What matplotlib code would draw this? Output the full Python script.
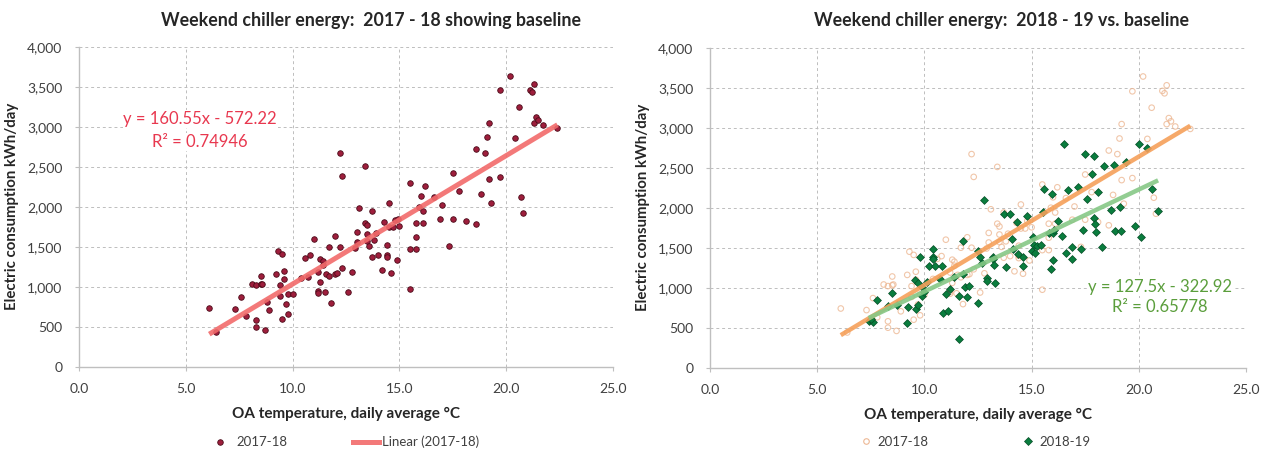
import numpy as np
import matplotlib
matplotlib.use("Agg")
import matplotlib.pyplot as plt
from matplotlib.lines import Line2D

# 2017-18 weekend days: OA temperature (C) vs chiller energy (kWh/day)
temp_1718 = [6.1, 6.4, 7.3, 7.6, 7.8, 8.1, 8.3, 8.3, 8.3, 8.5, 8.5, 8.55, 8.7, 8.8, 8.9,
             9.2, 9.3, 9.5, 9.4, 9.4, 9.5, 9.6, 9.6, 9.7, 9.8, 9.8, 10.0, 10.4, 10.6, 10.7,
             10.8, 11.0, 11.2, 11.2, 11.2, 11.3, 11.3, 11.4, 11.4, 11.5, 11.55, 11.7, 11.7,
             11.8, 12.0, 12.0, 12.1, 12.2, 12.2, 12.3, 12.3, 12.6, 12.8, 12.9, 13.0, 13.0,
             13.1, 13.4, 13.4, 13.5, 13.5, 13.5, 13.6, 13.7, 13.7, 13.8, 13.9, 14.0, 14.2,
             14.3, 14.4, 14.4, 14.4, 14.5, 14.5, 14.6, 14.7, 14.8, 14.9, 14.95, 15.0, 15.5,
             15.5, 15.5, 15.8, 15.8, 15.8, 15.9, 16.0, 16.1, 16.1, 16.2, 16.6, 16.9, 17.0,
             17.3, 17.5, 17.5, 17.8, 18.1, 18.6, 18.6, 18.8, 19.0, 19.1, 19.2, 19.2, 19.3,
             19.7, 19.7, 20.2, 20.4, 20.6, 20.7, 20.8, 21.1, 21.2, 21.3, 21.3, 21.4, 21.5,
             21.7, 22.4]
kwh_1718 = [740, 440, 720, 870, 630, 1040, 1020, 580, 500, 1030, 1140, 1040, 460, 805, 705,
            1160, 1450, 1410, 1020, 885, 600, 1200, 1100, 790, 655, 915, 910, 1110, 1360, 1120,
            1395, 1600, 950, 925, 1190, 1060, 1350, 1325, 1275, 930, 1160, 1500, 1130,
            795, 1630, 1160, 1170, 1500, 2670, 2385, 1230, 940, 1180, 1490, 1685, 1565,
            1980, 2510, 1800, 1765, 1570, 1665, 1510, 1940, 1375, 1580, 1675, 1395, 1205,
            1810, 1525, 1400, 1370, 2040, 1740, 1175, 1740, 1835, 1340, 1850, 1755, 2290,
            1470, 975, 1625, 1470, 1800, 2000, 2130, 1940, 1800, 2255, 2120, 1850, 2015,
            1510, 2415, 1850, 2195, 1820, 2715, 1780, 2160, 2670, 2865, 3045, 2345, 2050,
            3455, 2370, 3640, 2860, 3250, 2125, 1925, 3460, 3430, 3530, 3045, 3120, 3080,
            3015, 2985]

# 2018-19 weekend days
temp_1819 = [7.4, 7.6, 7.5, 7.8, 8.5, 8.3, 8.7, 9.2, 9.25, 9.55, 9.6, 9.7, 9.7, 9.8, 9.9,
             9.9, 10.0, 10.1, 10.2, 10.4, 10.4, 10.4, 10.5, 10.8, 10.75, 10.85, 11.0, 11.1,
             11.2, 11.4, 11.6, 11.6, 11.8, 11.8, 11.9, 12.0, 12.1, 12.5, 12.5, 12.6, 12.7,
             12.8, 12.9, 12.9, 13.2, 13.2, 13.25, 13.3, 13.7, 13.8, 14.0, 14.1, 14.15, 14.3,
             14.35, 14.6, 14.6, 14.8, 15.0, 15.05, 15.1, 15.15, 15.25, 15.45, 15.55, 15.6,
             15.8, 15.9, 15.95, 16.0, 16.0, 16.05, 16.25, 16.4, 16.5, 16.6, 16.7, 16.9, 16.9,
             17.15, 17.3, 17.4, 17.5, 17.6, 17.8, 17.9, 17.9, 17.95, 18.0, 18.1, 18.3, 18.4,
             18.7, 18.85, 18.9, 19.1, 19.15, 19.4, 19.8, 20.0, 20.1, 20.4, 20.6, 20.9]
kwh_1819 = [587, 570, 608, 845, 936, 770, 782, 558, 757, 1095, 740, 782, 1061, 1378, 1011,
            899, 945, 1074, 1269, 1486, 1378, 1353, 1269, 1269, 1103, 687, 920, 712,
            978, 1136, 895, 354, 1586, 1170, 1003, 887, 1020, 1461, 803, 1378, 1303,
            2102, 1120, 1086, 1386, 1353, 1278, 1061, 1919, 1261, 1919, 1615, 1478, 1819,
            1419, 1269, 1386, 1894, 1461, 1636, 1532, 1428, 1519, 1532, 1944, 2235,
            1686, 1228, 2177, 1344, 1678, 1719, 1836, 1644, 2801, 1428, 2218, 1503, 1353,
            2260, 1478, 1719, 2668, 2110, 2426, 2651, 1877, 1802, 1694, 2193, 1503, 2518,
            1969, 2530, 1711, 2010, 1711, 2568, 1769, 2801, 1636, 2743, 2239, 1960]

# Excel linear trendlines
slope_1718, intercept_1718, r2_1718 = 160.55, -572.22, 0.74946
slope_1819, intercept_1819, r2_1819 = 127.5, -322.92, 0.65778

FONT = ["Lato", "DejaVu Sans"]


def style_axes(ax, title, title_x):
    ax.set_xlim(0, 25)
    ax.set_ylim(0, 4000)
    ax.set_xticks(np.arange(0, 25.1, 5))
    ax.set_yticks(np.arange(0, 4001, 500))
    ax.set_xticklabels(["%.1f" % t for t in np.arange(0, 25.1, 5)])
    ax.set_yticklabels(["{:,}".format(int(t)) for t in np.arange(0, 4001, 500)])
    ax.grid(True, color="#BDBDBD", linestyle=(0, (3, 3)), linewidth=0.7)
    ax.set_axisbelow(True)
    for side in ["top", "right"]:
        ax.spines[side].set_visible(False)
    for side in ["left", "bottom"]:
        ax.spines[side].set_color("#BFBFBF")
        ax.spines[side].set_linewidth(1.0)
    ax.tick_params(axis="both", colors="#BFBFBF", labelcolor="#404040", labelsize=10, length=3)
    ax.tick_params(axis="x", pad=9)
    ax.tick_params(axis="y", pad=9)
    ax.set_xlabel("OA temperature, daily average \u00b0C", fontsize=11, fontweight="bold",
                  color="#262626", labelpad=8)
    ax.set_ylabel("Electric consumption kWh/day", fontsize=10.8, fontweight="bold",
                  color="#262626", labelpad=6)
    plt.gcf().text(title_x, 0.955, title, fontsize=12.8, fontweight="bold", color="#262626",
                   ha="center", va="center")


def main():
    plt.rcParams["font.family"] = FONT
    fig = plt.figure(figsize=(12.65, 4.5), dpi=100)
    ax1 = fig.add_axes([79 / 1265, 1 - 366.7 / 450, 534 / 1265, 320 / 450])
    ax2 = fig.add_axes([710 / 1265, 1 - 367.7 / 450, 536 / 1265, 320 / 450])

    x1 = np.array(temp_1718)
    y1 = np.array(kwh_1718)
    x2 = np.array(temp_1819)
    y2 = np.array(kwh_1819)
    fx1 = np.array([x1.min(), x1.max()])
    fx2 = np.array([x2.min(), x2.max()])
    label_bg = dict(facecolor="white", edgecolor="none", pad=0.5)

    # left: 2017-18 with baseline trendline
    ax1.scatter(x1, y1, s=16, color="#9E1E3C", edgecolors="#4A0A18", linewidths=0.6, zorder=3)
    ax1.plot(fx1, slope_1718 * fx1 + intercept_1718, color="#F26B6B", lw=3.6, alpha=0.9,
             solid_capstyle="butt", zorder=4)
    ax1.text(5.67, 3096, "y = 160.55x - 572.22", color="#E8384F", fontsize=12,
             ha="center", va="center", bbox=label_bg, zorder=5)
    ax1.text(5.67, 2809, "R\u00b2 = %.5f" % r2_1718, color="#E8384F", fontsize=12,
             ha="center", va="center", bbox=label_bg, zorder=5)
    style_axes(ax1, "Weekend chiller energy:  2017 - 18 showing baseline", 371 / 1265)
    h1 = [Line2D([], [], marker="o", ls="none", markersize=4, color="#9E1E3C",
                 markeredgecolor="#4A0A18", markeredgewidth=0.6),
          Line2D([], [], color="#F26B6B", lw=3.6, alpha=0.9)]
    ax1.legend(h1, ["2017-18", "Linear (2017-18)"], loc="center", ncol=2, frameon=False,
               bbox_to_anchor=(343 / 1265, 8 / 450), bbox_transform=fig.transFigure,
               fontsize=9.5, handlelength=2.0, handletextpad=0.2, columnspacing=5,
               labelcolor="#404040")

    # right: 2018-19 against 2017-18 baseline
    ax2.scatter(x1, y1, s=16, facecolors="none", edgecolors="#EDB894", linewidths=0.8,
                alpha=0.8, zorder=3)
    ax2.scatter(x2, y2, s=16, marker="D", color="#0A7D3E", edgecolors="#064D26",
                linewidths=0.5, zorder=3)
    ax2.plot(fx1, slope_1718 * fx1 + intercept_1718, color="#F5A05A", lw=3.2, alpha=0.9,
             solid_capstyle="butt", zorder=4)
    ax2.plot(fx2, slope_1819 * fx2 + intercept_1819, color="#86C886", lw=3.2, alpha=0.9,
             solid_capstyle="butt", zorder=4)
    ax2.text(21.0, 1007, "y = 127.5x - 322.92", color="#5B9E3C", fontsize=12,
             ha="center", va="center", bbox=label_bg, zorder=5)
    ax2.text(21.0, 758, "R\u00b2 = %.5f" % r2_1819, color="#5B9E3C", fontsize=12,
             ha="center", va="center", bbox=label_bg, zorder=5)
    style_axes(ax2, "Weekend chiller energy:  2018 - 19 vs. baseline", 1002 / 1265)
    h2 = [Line2D([], [], marker="o", ls="none", markersize=4, markerfacecolor="none",
                 markeredgecolor="#EDB894", markeredgewidth=0.8),
          Line2D([], [], marker="D", ls="none", markersize=4, color="#0A7D3E",
                 markeredgecolor="#064D26", markeredgewidth=0.5)]
    ax2.legend(h2, ["2017-18", "2018-19"], loc="center", ncol=2, frameon=False,
               bbox_to_anchor=(975 / 1265, 8 / 450), bbox_transform=fig.transFigure,
               fontsize=9.5, handlelength=1.0, handletextpad=0.4, columnspacing=7,
               labelcolor="#404040")

    fig.savefig("out.png", dpi=100, facecolor="white")


if __name__ == "__main__":
    main()
